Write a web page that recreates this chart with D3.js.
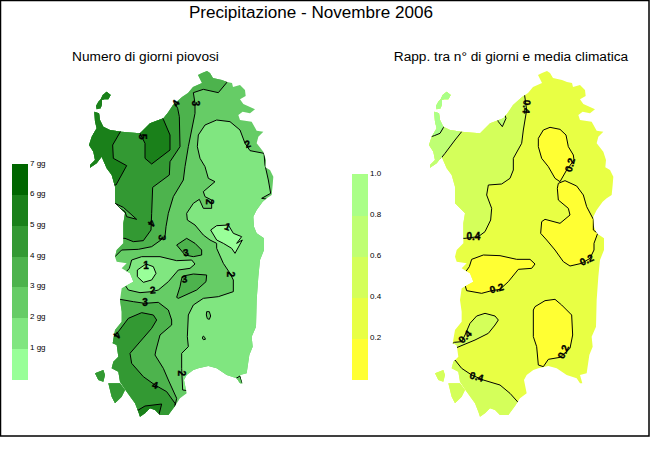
<!DOCTYPE html>
<html><head><meta charset="utf-8">
<script src="https://cdn.jsdelivr.net/npm/d3@7"></script>
<style>html,body{margin:0;padding:0;background:#fff}svg{display:block}text{font-family:"Liberation Sans",Arial,sans-serif;fill:#000}</style>
</head><body><svg id="c" width="650" height="450"></svg>
<script>
// Geometry is in a map grid: one unit = 1/3 px of the picture.
const coastMain=[[381,-27],[390,-21],[399,-6],[426,0],[441,6],[456,9],[459,21],[480,15],[495,30],[497,48],[480,58],[490,72],[525,88],[510,100],[488,95],[475,105],[480,120],[515,125],[530,152],[550,155],[535,170],[530,190],[550,215],[558,240],[556,262],[570,270],[580,290],[578,315],[575,345],[560,355],[548,365],[530,390],[520,410],[522,440],[530,460],[552,475],[552,510],[540,540],[535,590],[530,660],[528,740],[515,770],[518,800],[508,825],[500,880],[480,885],[487,910],[480,910],[470,895],[440,885],[410,865],[385,858],[355,865],[340,870],[320,885],[312,900],[320,940],[300,955],[285,978],[265,1005],[240,1005],[225,990],[210,985],[195,1000],[180,1010],[175,995],[165,970],[140,935],[120,905],[115,875],[95,865],[100,845],[115,830],[110,795],[98,790],[105,750],[125,725],[125,695],[120,660],[125,625],[160,605],[150,580],[125,565],[140,550],[110,545],[105,530],[110,510],[130,490],[130,430],[135,400],[105,370],[105,320],[95,285],[80,265],[65,230],[50,250],[30,263],[30,255],[45,240],[40,215],[27,195],[35,170],[50,145],[45,125],[43,100],[43,95],[57,100],[60,120],[70,140],[90,150],[125,155],[180,160],[210,130],[250,115],[270,90],[261,102],[279,75],[306,51],[324,39],[339,21],[366,9],[354,-15],[366,-21]];
const coastAsinara=[[68,45],[80,35],[92,45],[85,58],[72,58],[66,60],[66,72],[62,85],[50,88],[48,78],[55,65],[62,58]];
const coastIsletA=[[45,880],[70,870],[75,885],[70,905],[55,900]];
const coastIsletB=[[85,910],[120,910],[135,930],[125,950],[105,970],[95,950]];
const coastAll=[coastMain,coastAsinara,coastIsletA,coastIsletB];

const dayColors=["#99ff99","#80e680","#66cc66","#4db34d","#339933","#1a801a","#006600"];
const ratioColors=["#ffff33","#e8ff44","#d4ff5a","#bfff73","#aaff88"];
const dayTicks=[1,2,3,4,5,6,7];
const ratioTicks=[0.2,0.4,0.6,0.8,1.0];

const dayBase=2;
const dayZones=[
 [3,[[440,8],[415,38],[370,28],[340,38],[345,70],[345,100],[335,150],[325,200],[315,260],[310,300],[280,350],[265,400],[258,440],[255,470],[240,482],[215,500],[175,508],[125,510],[105,530],[40,530],[0,300],[100,-40],[420,-50]]],
 [3,[[120,658],[160,665],[195,670],[235,667],[265,690],[275,720],[275,735],[240,765],[228,810],[225,825],[250,865],[265,900],[290,955],[285,978],[300,1040],[100,1080],[0,900],[0,658]]],
 [3,[[290,495],[320,475],[345,490],[365,510],[365,525],[340,530],[315,525]]],
 [3,[[310,588],[340,582],[380,585],[378,605],[350,630],[295,655],[290,652],[300,620],[305,595]]],
 [4,[[285,70],[293,85],[298,110],[300,200],[270,245],[268,285],[218,322],[215,400],[213,450],[190,482],[160,485],[135,475],[50,475],[0,300],[0,0],[240,40]]],
 [4,[[105,765],[115,755],[145,715],[185,698],[220,705],[230,720],[215,745],[150,820],[155,850],[190,890],[225,915],[260,935],[285,970],[285,978],[300,1040],[100,1080],[0,980],[0,765]]],
 [3,[[105,370],[130,382],[170,418],[140,410],[135,395],[120,385]]],
 [5,[[180,160],[195,190],[195,235],[215,252],[270,210],[270,165],[250,118],[230,90],[190,120]]],
 [5,[[123,152],[98,195],[100,235],[140,257],[108,315],[0,315],[0,0],[110,0],[110,110]]],
 [5,[[175,990],[195,978],[245,972],[238,1000],[230,1040],[150,1040],[165,990]]],
 [1,[[495,190],[480,150],[450,125],[410,120],[375,135],[355,165],[352,200],[360,235],[375,260],[385,295],[405,305],[370,335],[375,350],[395,360],[395,385],[370,385],[358,358],[340,370],[320,400],[322,420],[345,435],[370,465],[390,480],[410,490],[410,505],[430,550],[450,580],[460,600],[460,635],[415,650],[370,655],[340,675],[325,705],[322,770],[325,800],[305,820],[305,865],[308,930],[325,932],[600,1000],[640,370],[545,355],[572,340],[565,300],[555,255],[552,220],[510,212]]],
 [1,[[148,565],[155,540],[185,530],[240,530],[290,542],[335,540],[345,552],[330,565],[295,570],[265,605],[235,630],[215,635],[180,638],[145,630],[135,615],[130,585]]],
 [2,[[380,695],[388,695],[392,708],[388,718],[382,716],[379,705]]],
 [2,[[370,768],[375,773],[376,778],[370,779],[367,774]]],
 [2,[[460,900],[480,888],[487,910],[490,930],[460,930]]],
 [0,[[392,450],[410,437],[445,435],[460,460],[485,470],[470,490],[487,480],[465,520],[455,505],[430,490],[410,480]]],
 [0,[[198,552],[220,560],[228,580],[215,600],[190,607],[172,590],[172,570]]]
];
const ratioBase=1;
const ratioZones=[
 [2,[[313,40],[320,90],[310,150],[305,190],[280,235],[280,270],[270,295],[245,312],[205,315],[200,345],[215,385],[212,420],[195,455],[175,470],[135,475],[50,475],[0,300],[0,0],[280,0]]],
 [2,[[105,840],[125,865],[155,885],[190,900],[240,915],[270,940],[297,970],[320,1040],[100,1080],[0,980],[0,840]]],
 [2,[[103,787],[125,785],[135,765],[150,730],[170,708],[195,700],[225,708],[235,720],[225,735],[205,760],[165,780],[105,805],[85,800]]],
 [3,[[125,155],[105,180],[75,220],[63,235],[53,265],[0,280],[0,0],[110,0],[110,110]]],
 [3,[[235,125],[247,140],[258,115],[250,90],[225,100]]],
 [4,[[43,167],[60,160],[70,143],[100,60],[100,0],[0,0],[0,180]]],
 [0,[[370,150],[390,142],[420,148],[438,165],[445,200],[460,225],[462,240],[440,270],[420,305],[405,295],[385,260],[365,235],[355,200],[355,175]]],
 [0,[[415,310],[435,302],[470,318],[490,345],[500,380],[520,418],[520,450],[533,460],[522,490],[522,510],[510,535],[485,550],[450,558],[430,545],[405,510],[380,480],[362,460],[365,425],[375,418],[420,430],[450,405],[445,385],[415,360],[412,325]]],
 [0,[[148,560],[155,538],[190,525],[240,527],[290,538],[330,538],[345,552],[335,565],[295,568],[265,605],[240,628],[215,632],[185,640],[140,632],[135,615],[130,585]]],
 [0,[[345,680],[375,662],[405,658],[425,675],[455,705],[458,765],[450,805],[420,832],[385,838],[370,860],[355,855],[350,800],[340,770],[340,690]]]
];
const dayLabels=[["3",347,70,90],["5",188,170,90],["4",287,70,-55],["2",503,192,-20],["2",388,365,90],["1",443,440,20],["4",215,430,125],["3",247,473,100],["3",318,518,-10],["2",450,583,90],["1",198,555,0],["3",313,597,-10],["2",218,630,-5],["3",195,667,0],["4",112,765,125],["4",225,915,15],["2",305,880,90]];
const ratioLabels=[["0.4",320,80,95],["0.4",160,470,0],["0.2",450,255,-75],["0.2",500,540,-25],["0.2",230,625,-15],["0.2",430,815,-65],["0.4",135,770,-45],["0.4",170,890,15]];

const svg=d3.select("#c");
svg.append("rect").attr("x",0.5).attr("y",0.5).attr("width",648.5).attr("height",435.5).attr("fill","#fff").attr("stroke","#000").attr("stroke-width",1.5);
svg.append("text").attr("x",311).attr("y",18).attr("text-anchor","middle").attr("font-size",17.1).text("Precipitazione - Novembre 2006");
svg.append("text").attr("x",145.5).attr("y",61).attr("text-anchor","middle").attr("font-size",13.7).text("Numero di giorni piovosi");
svg.append("text").attr("x",511).attr("y",61).attr("text-anchor","middle").attr("font-size",13.7).text("Rapp. tra n° di giorni e media climatica");

const yMap=d3.scaleLinear().domain([0,1020]).range([80,420]);
function drawMap(id,x0,colors,base,zones,labels){
 const xMap=d3.scaleLinear().domain([0,600]).range([x0,x0+200]);
 const line=d3.line().x(d=>xMap(d[0])).y(d=>yMap(d[1])).curve(d3.curveLinear);
 const closed=p=>line(p)+"Z";
 svg.append("clipPath").attr("id",id).selectAll("path").data(coastAll).join("path").attr("d",closed);
 const g=svg.append("g").attr("clip-path",`url(#${id})`);
 g.append("rect").attr("x",x0-10).attr("y",60).attr("width",230).attr("height",370).attr("fill",colors[base]);
 g.selectAll("path.z").data(zones).join("path").attr("class","z").attr("d",d=>closed(d[1])).attr("fill",d=>colors[d[0]]).attr("stroke","#000").attr("stroke-width",1);
 const t=svg.append("g");
 t.selectAll("text").data(labels).join("text").attr("text-anchor","middle").attr("dominant-baseline","central")
  .attr("font-size",10).attr("font-weight","bold").attr("stroke","#000").attr("stroke-width",0.35)
  .attr("transform",d=>`translate(${xMap(d[1])},${yMap(d[2])}) rotate(${d[3]})`).text(d=>d[0]);
}
drawMap("mapDays",80,dayColors,dayBase,dayZones,dayLabels);
drawMap("mapRatio",420,ratioColors,ratioBase,ratioZones,ratioLabels);

function drawLegend(x,top,colors,ticks,maxVal,fmt){
 const y=d3.scaleLinear().domain([0,maxVal]).range([379,top]);
 const step=maxVal/colors.length;
 svg.append("g").selectAll("rect").data(colors).join("rect").attr("x",x).attr("width",16)
  .attr("y",(d,i)=>y((i+1)*step)).attr("height",(d,i)=>y(i*step)-y((i+1)*step)+0.5).attr("fill",d=>d).attr("shape-rendering","crispEdges");
 svg.append("g").selectAll("text").data(ticks).join("text").attr("x",x+18).attr("y",d=>y(d)+1.5).attr("font-size",8).text(fmt);
}
drawLegend(12,164,dayColors,dayTicks,7,d=>d+" gg");
drawLegend(352,174,ratioColors,ratioTicks,1,d=>d3.format(".1f")(d));
</script></body></html>
